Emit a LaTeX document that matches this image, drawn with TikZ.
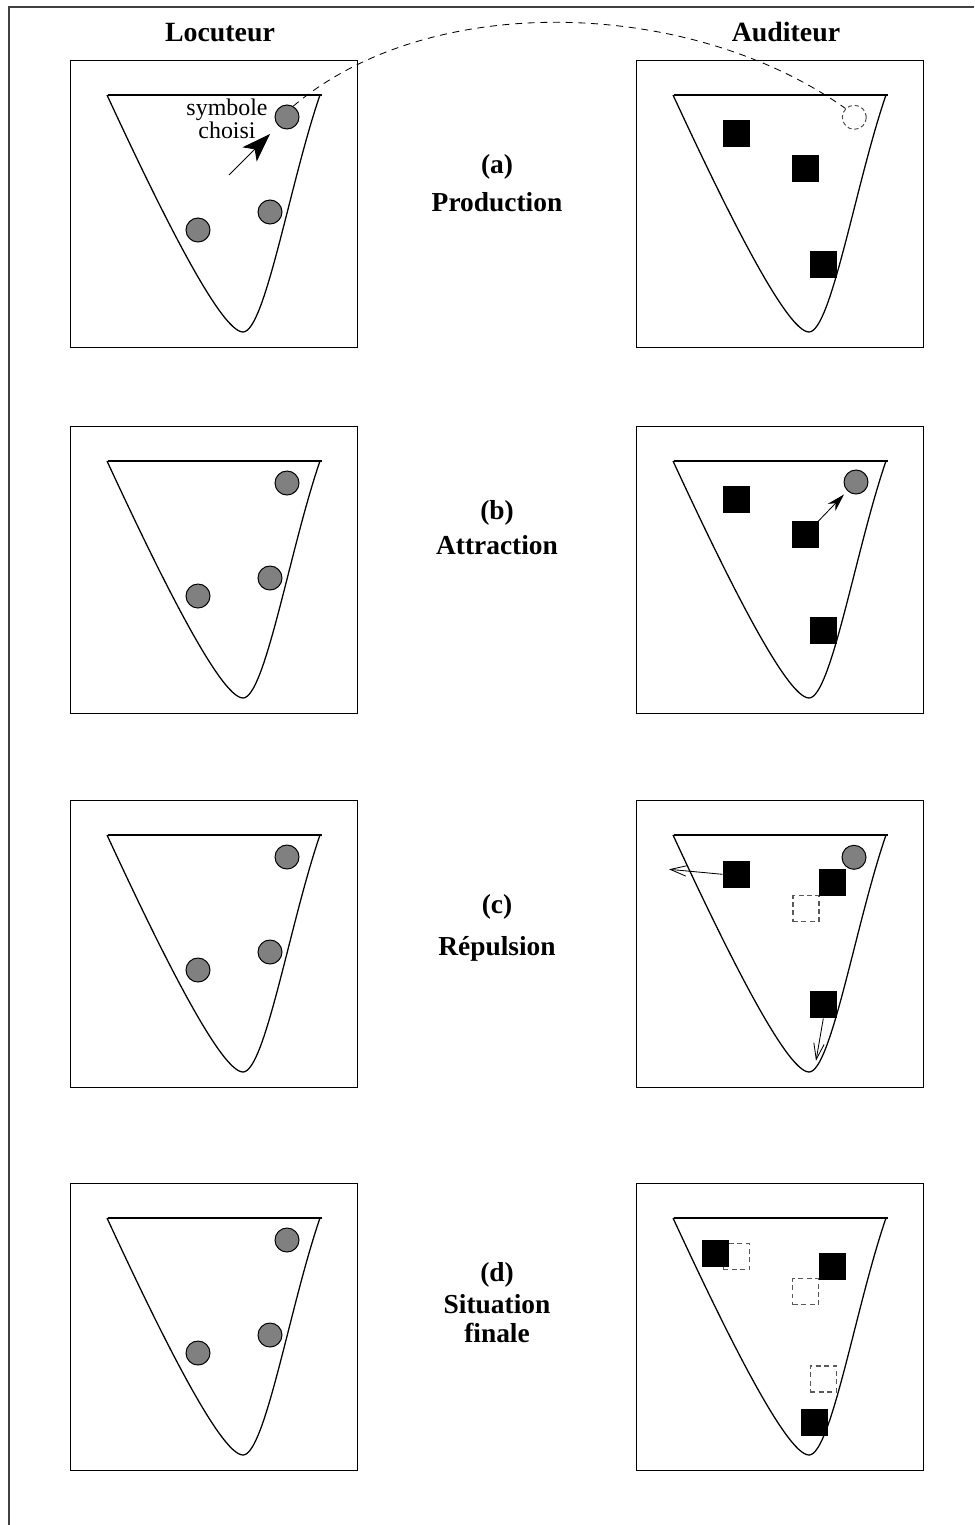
\documentclass[tikz,border=0pt]{standalone}
\usepackage{fontspec}
\setmainfont{Liberation Serif}
\usetikzlibrary{arrows.meta,positioning}

\begin{document}
\begin{tikzpicture}[
        x=0.025cm, y=-0.025cm,
        >=Stealth,
        panel/.style={draw, line width=1pt, minimum size=7.175cm, inner sep=0pt, anchor=north west},
        basin/.style={line width=0.9pt},
        rim/.style={line width=1.2pt},
        sym/.style={circle, draw, line width=0.7pt, fill=gray, minimum size=0.6cm, inner sep=0pt},
        ghostsym/.style={circle, draw=gray!60!black, dash pattern=on 3pt off 2pt, line width=0.7pt, minimum size=0.6cm, inner sep=0pt},
        word/.style={rectangle, fill=black, minimum size=0.675cm, inner sep=0pt},
        oldword/.style={rectangle, draw=gray!70!black, dash pattern=on 3.5pt off 2.5pt, line width=0.8pt, minimum size=0.65cm, inner sep=0pt},
        title/.style={font=\fontsize{19.8}{24}\selectfont\bfseries, anchor=base},
        stage/.style={font=\fontsize{19.5}{20.9}\selectfont\bfseries, anchor=base, align=center},
        pull/.style={->, line width=0.6pt},
        push/.style={-{Straight Barb[length=4mm, width=2.6mm]}, line width=0.6pt},
        link/.style={dash pattern=on 5pt off 4pt, line width=0.6pt}
    ]
        \useasboundingbox (0,0) rectangle (974,1525);

        % Page frame
        \draw[line width=1pt, gray!50!black] (974,7) -- (9,7) -- (9,1525);

        % Column titles
        \node (loctitle) [title] at (220,42) {Locuteur};
        \node (audtitle) [title] at (786,42) {Auditeur};

        % Panels, basins and speaker symbols
        \foreach \row/\rowy in {1/60, 2/426, 3/800, 4/1183} {
            \node (loc\row) [panel] at (70,\rowy) {};
            \node (aud\row) [panel] at (636,\rowy) {};
            \foreach \bx in {70,636} {
                \draw[basin] (\bx+37,\rowy+35) .. controls (\bx+87,\rowy+143) and (\bx+150,\rowy+272) .. (\bx+173,\rowy+272)
                    .. controls (\bx+195,\rowy+272) and (\bx+220,\rowy+122) .. (\bx+250,\rowy+35);
                \draw[rim] (\bx+38,\rowy+35) -- (\bx+252,\rowy+35);
            }
            \node (sym\row a) [sym] at (287,\rowy+57) {};
            \node (sym\row b) [sym] at (270,\rowy+152) {};
            \node (sym\row c) [sym] at (198,\rowy+170) {};
        }

        % Stage labels
        \node (keya) [stage] at (497,173) {(a)};
        \node (namea) [stage] at (497,211) {Production};
        \node (keyb) [stage] at (497,519) {(b)};
        \node (nameb) [stage] at (497,554) {Attraction};
        \node (keyc) [stage] at (497,913) {(c)};
        \node (namec) [stage] at (497,955) {Répulsion};
        \node (keyd) [stage] at (497,1281) {(d)};
        \node (named) [stage] at (497,1342.7) {Situation\\finale};

        % (a) Production
        \node (chosen) [font=\fontsize{17}{15.9}\selectfont, align=center, anchor=base] at (227,138.3) {symbole\\choisi};
        \coordinate (chtail) at (229,175);
        \coordinate (chtip) at (270,134);
        \draw[line width=0.6pt, -{Stealth[length=7.2mm, width=5mm, inset=1.8mm]}] (chtail) -- (chtip);
        \node (wa1) [word] at (736.3,133.7) {};
        \node (wa2) [word] at (805.7,168.7) {};
        \node (wa3) [word] at (823.3,264.3) {};
        \node (heard) [ghostsym] at (854.3,117.3) {};
        \draw[link] (sym1a.60) .. controls (430,-10) and (690,-2) .. (heard.135);

        % (b) Attraction
        \node (wb1) [word] at (736.3,499.7) {};
        \node (wb2) [word] at (805.7,534.3) {};
        \node (wb3) [word] at (823.3,630.3) {};
        \node (attr) [sym] at (856,482) {};
        \draw[pull, -{Stealth[length=4.5mm, width=2.6mm]}, shorten >=1.2mm] (wb2.center) -- (attr);

        % (c) Repulsion
        \node (oldwc2) [oldword] at (806,908.7) {};
        \node (wc1) [word] at (736.3,874.3) {};
        \node (wc2) [word] at (832.3,882.7) {};
        \node (wc3) [word] at (823.3,1004.7) {};
        \node (repl) [sym] at (854,857.3) {};
        \coordinate (push1) at (669,869.3);
        \coordinate (push3) at (816,1060.7);
        \draw[push] (wc1.west) -- (push1);
        \draw[push] (wc3.south) -- (push3);

        % (d) Final situation
        \node (oldwd1) [oldword] at (736.2,1256.8) {};
        \node (oldwd2) [oldword] at (805.8,1291.7) {};
        \node (oldwd3) [oldword] at (823.3,1379) {};
        \node (wd1) [word] at (715.5,1253.7) {};
        \node (wd2) [word] at (832.3,1266) {};
        \node (wd3) [word] at (814.7,1422.7) {};
\end{tikzpicture}
\end{document}
